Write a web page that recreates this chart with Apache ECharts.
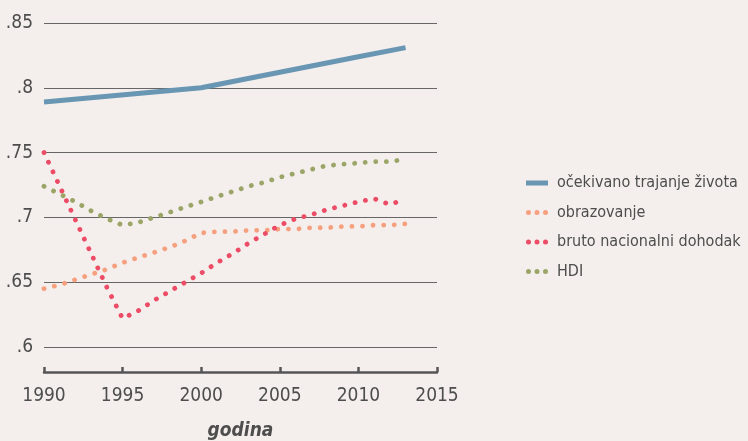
<!DOCTYPE html>
<html>
<head>
<meta charset="utf-8">
<script src="https://cdn.jsdelivr.net/npm/echarts@6/dist/echarts.min.js"></script>
<style>
  html, body { margin: 0; padding: 0; background: #f4efec; }
  #chart-container { width: 748px; height: 441px; }
</style>
</head>
<body>
<div id="chart-container"></div>
<script>
var dom = document.getElementById("chart-container");
var myChart = echarts.init(dom, null, { renderer: "canvas" });

var FONT = "'Liberation Sans Narrow', 'DejaVu Sans Condensed', 'Liberation Sans', sans-serif";

// years with annual values
var years = [1990, 1991, 1992, 1993, 1994, 1995, 1996, 1997, 1998, 1999, 2000, 2001,
  2002, 2003, 2004, 2005, 2006, 2007, 2008, 2009, 2010, 2011, 2012, 2013];

// life expectancy index is only given for a few years
var lifeYears = [1990, 2000, 2005, 2010, 2013];
var lifeExp = [0.789, 0.800, 0.812, 0.824, 0.831];

var education = [0.645, 0.648, 0.652, 0.656, 0.660, 0.665, 0.669, 0.673, 0.677, 0.682,
  0.688, 0.689, 0.689, 0.690, 0.690, 0.691, 0.691, 0.692, 0.692, 0.693, 0.693, 0.694, 0.694, 0.695];

var gni = [0.750, 0.724, 0.698, 0.672, 0.646, 0.622, 0.628, 0.636, 0.643, 0.650,
  0.657, 0.665, 0.672, 0.680, 0.687, 0.694, 0.699, 0.702, 0.706, 0.709, 0.712, 0.7145, 0.710, 0.714];

var hdi = [0.724, 0.718, 0.712, 0.705, 0.699, 0.694, 0.696, 0.700, 0.704, 0.708,
  0.712, 0.716, 0.720, 0.724, 0.727, 0.731, 0.734, 0.737, 0.740, 0.741, 0.742, 0.743, 0.743, 0.745];

var names = ["očekivano trajanje života", "obrazovanje", "bruto nacionalni dohodak", "HDI"];
var colors = ["#6896b3", "#f6a07f", "#ec4c66", "#9ca568"];

function pairs(xs, ys) {
  return xs.map(function (x, i) { return [x, ys[i]]; });
}

var dotIcon = "path://M0,2.5a2.5,2.5 0 1,0 5,0a2.5,2.5 0 1,0 -5,0Z" +
  "M8.5,2.5a2.5,2.5 0 1,0 5,0a2.5,2.5 0 1,0 -5,0Z" +
  "M17,2.5a2.5,2.5 0 1,0 5,0a2.5,2.5 0 1,0 -5,0Z";

function dotted(name, data, color) {
  return {
    name: name,
    type: "line",
    data: data,
    symbol: "none",
    lineStyle: { color: color, width: 4.8, type: [0.1, 10.5], cap: "round" },
    itemStyle: { color: color, borderWidth: 0 }
  };
}

var option = {
  backgroundColor: "#f4efec",
  animation: false,
  color: colors,
  grid: { left: 44, right: 311, top: 23, bottom: 94, containLabel: false, outerBoundsMode: "none" },
  legend: {
    orient: "vertical",
    left: 521,
    top: 168,
    itemWidth: 22,
    itemHeight: 5,
    itemGap: 9.5,
    itemStyle: { borderWidth: 0 },
    textStyle: { fontFamily: FONT, fontSize: 16, color: "#4d4d4d", lineHeight: 20, padding: [0, 0, 0, 4] },
    data: [
      { name: names[0], icon: "rect" },
      { name: names[1], icon: dotIcon },
      { name: names[2], icon: dotIcon },
      { name: names[3], icon: dotIcon }
    ]
  },
  xAxis: {
    type: "value",
    min: 1990,
    max: 2015,
    interval: 5,
    offset: 25,
    name: "godina",
    nameLocation: "middle",
    nameGap: 50,
    nameTextStyle: { fontFamily: FONT, fontSize: 19, fontStyle: "italic", fontWeight: "bold", color: "#4d4d4d" },
    axisLine: { lineStyle: { color: "#555", width: 2.5 } },
    axisTick: { inside: true, length: 5, lineStyle: { color: "#555", width: 2.5 } },
    axisLabel: {
      fontFamily: FONT, fontSize: 19, color: "#4d4d4d", margin: 15,
      formatter: function (v) { return String(v); }
    },
    splitLine: { show: false }
  },
  yAxis: {
    type: "value",
    min: 0.6,
    max: 0.85,
    interval: 0.05,
    axisLine: { show: false },
    axisTick: { show: false },
    axisLabel: {
      fontFamily: FONT, fontSize: 19, color: "#4d4d4d", margin: 11,
      formatter: function (v) { return String(+v.toFixed(2)).replace(/^0/, ""); }
    },
    splitLine: { lineStyle: { color: "#666", width: 1 } }
  },
  series: [
    {
      name: names[0],
      type: "line",
      data: pairs(lifeYears, lifeExp),
      symbol: "none",
      lineStyle: { color: colors[0], width: 5 },
      itemStyle: { color: colors[0], borderWidth: 0 }
    },
    dotted(names[1], pairs(years, education), colors[1]),
    dotted(names[2], pairs(years, gni), colors[2]),
    dotted(names[3], pairs(years, hdi), colors[3])
  ]
};

myChart.setOption(option);
window.addEventListener("resize", myChart.resize);
</script>
</body>
</html>
